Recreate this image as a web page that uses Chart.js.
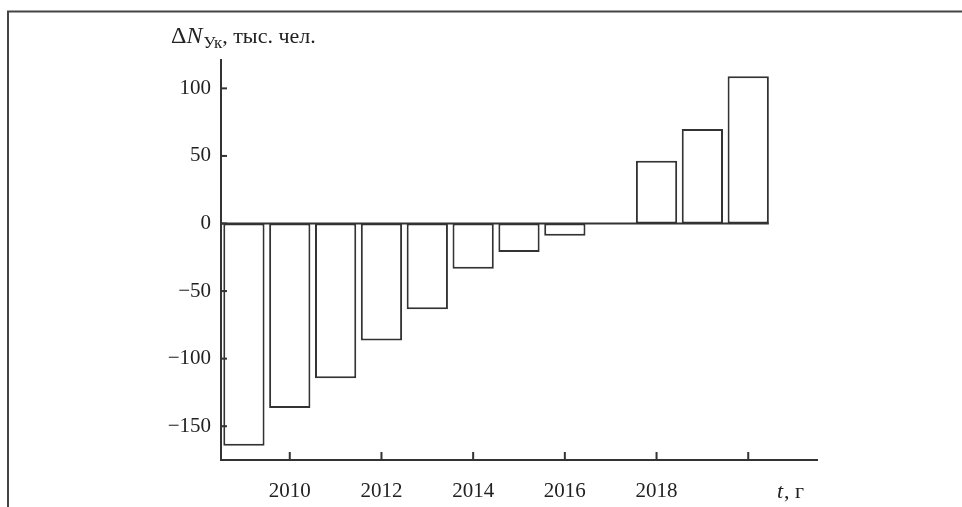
<!DOCTYPE html>
<html>
<head>
<meta charset="utf-8">
<script src="https://cdn.jsdelivr.net/npm/chart.js@4"></script>
<style>
html,body{margin:0;padding:0;background:#fff;}
#wrap{position:relative;width:962px;height:507px;}
</style>
</head>
<body>
<div id="wrap"><canvas id="c" width="962" height="507"></canvas></div>
<script>
// ---- data ----
const years = ['2009','2010','2011','2012','2013','2014','2015','2016','2017','2018','2019','2020','2021'];
const deltaN = [-164.5, -136.5, -114.5, -86.5, -63.5, -33.5, -21, -9, null, 46.5, 70, 109, null];
const yTickValues = [-150, -100, -50, 0, 50, 100];
const xTickYears = ['2010','2012','2014','2016','2018','2020'];
const xLabelYears = ['2010','2012','2014','2016','2018'];
const yTitle = {delta: 'Δ', n: 'N', sub: 'Ук', rest: ', тыс. чел.'};
const xTitle = {t: 't', rest: ', г'};

const INK = '#333';
const SERIF = '"Liberation Serif", "DejaVu Serif", serif';

const decor = {
  id: 'decor',
  beforeDraw(chart) {
    const ctx = chart.ctx;
    ctx.save();
    ctx.fillStyle = '#fff';
    ctx.fillRect(0, 0, chart.width, chart.height);
    ctx.strokeStyle = '#444';
    ctx.lineWidth = 2;
    ctx.beginPath();
    ctx.moveTo(8, 507);
    ctx.lineTo(8, 11.5);
    ctx.lineTo(962, 11.5);
    ctx.stroke();
    ctx.restore();
  },
  afterDatasetsDraw(chart) {
    const ctx = chart.ctx;
    const x = chart.scales.x, y = chart.scales.y;
    const meta = chart.getDatasetMeta(0);
    let rightEdge = x.left;
    meta.data.forEach((el, i) => {
      if (deltaN[i] !== null) rightEdge = Math.max(rightEdge, el.x + el.width / 2);
    });
    ctx.save();
    ctx.strokeStyle = INK;
    ctx.lineWidth = 2;
    const y0 = y.getPixelForValue(0);
    ctx.beginPath();
    ctx.moveTo(x.left, y0);
    ctx.lineTo(rightEdge, y0);
    ctx.stroke();
    xTickYears.forEach(yr => {
      const px = x.getPixelForValue(years.indexOf(yr));
      ctx.beginPath();
      ctx.moveTo(px, y.bottom);
      ctx.lineTo(px, y.bottom - 8);
      ctx.stroke();
    });
    yTickValues.forEach(v => {
      const py = y.getPixelForValue(v);
      ctx.beginPath();
      ctx.moveTo(x.left, py);
      ctx.lineTo(x.left + 6, py);
      ctx.stroke();
    });
    ctx.restore();
  },
  afterDraw(chart) {
    const ctx = chart.ctx;
    ctx.save();
    ctx.fillStyle = '#222';
    ctx.textBaseline = 'alphabetic';
    ctx.textAlign = 'left';
    let cx = 171, by = 43;
    ctx.font = '24px ' + SERIF;
    ctx.fillText(yTitle.delta, cx, by); cx += ctx.measureText(yTitle.delta).width;
    ctx.font = 'italic 24px ' + SERIF;
    ctx.fillText(yTitle.n, cx, by); cx += ctx.measureText(yTitle.n).width + 1;
    ctx.font = '17px ' + SERIF;
    ctx.fillText(yTitle.sub, cx, by + 5); cx += ctx.measureText(yTitle.sub).width;
    ctx.font = '22px ' + SERIF;
    ctx.fillText(yTitle.rest, cx, by);
    cx = 777; by = 498;
    ctx.font = 'italic 22px ' + SERIF;
    ctx.fillText(xTitle.t, cx, by); cx += ctx.measureText(xTitle.t).width + 1;
    ctx.font = '22px ' + SERIF;
    ctx.fillText(xTitle.rest, cx, by);
    ctx.restore();
  }
};

new Chart(document.getElementById('c'), {
  type: 'bar',
  data: {
    labels: years,
    datasets: [{
      data: deltaN,
      backgroundColor: '#fff',
      borderColor: INK,
      borderWidth: 2,
      borderSkipped: false,
      barPercentage: 0.9,
      categoryPercentage: 1.0
    }]
  },
  options: {
    responsive: false,
    animation: false,
    devicePixelRatio: 1,
    layout: {padding: {top: 60, right: 145, left: 0, bottom: 0}},
    plugins: {legend: {display: false}, tooltip: {enabled: false}},
    scales: {
      x: {
        grid: {display: false, drawTicks: false},
        border: {display: true, color: INK, width: 2},
        afterFit(s) { s.height = 47; },
        ticks: {
          autoSkip: false,
          maxRotation: 0,
          padding: 19,
          color: '#222',
          font: {family: SERIF, size: 21},
          callback(v, i) { const l = years[i]; return xLabelYears.includes(l) ? l : ''; }
        }
      },
      y: {
        min: -175,
        max: 121,
        grid: {display: false, drawTicks: false},
        border: {display: true, color: INK, width: 2},
        afterFit(s) { s.width = 221; },
        afterBuildTicks(s) { s.ticks = yTickValues.map(v => ({value: v})); },
        ticks: {
          padding: 10,
          color: '#222',
          font: {family: SERIF, size: 21},
          callback(v) { return v < 0 ? '\u2212' + Math.abs(v) : String(v); }
        }
      }
    }
  },
  plugins: [decor]
});
</script>
</body>
</html>
